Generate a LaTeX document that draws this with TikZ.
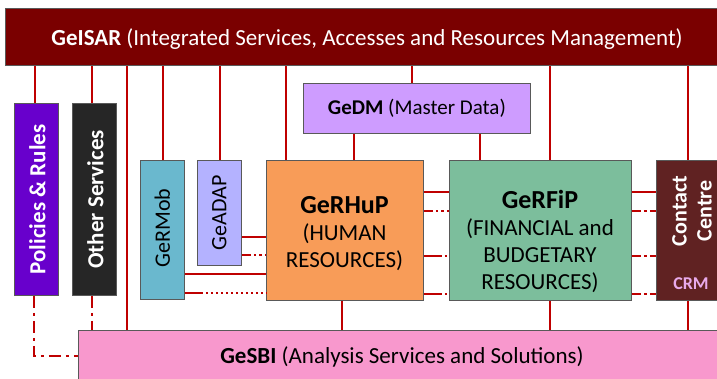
\documentclass[tikz,border=0pt]{standalone}
\usepackage{fontspec}
\setmainfont{Carlito}
\begin{document}
\begin{tikzpicture}[x=1pt,y=-1pt,
  box/.style={draw=black!65,line width=0.8pt,anchor=north west,inner sep=0pt,align=center},
  link/.style={draw=red!75!black,line width=2pt},
  ddot/.style={link,dash pattern=on 9pt off 3pt on 2.5pt off 3pt on 2.5pt off 3pt},
  dashdot/.style={link,dash pattern=on 9pt off 3pt on 3pt off 3pt},
  dots/.style={link,dash pattern=on 18pt off 3pt on 2.5pt off 2.5pt on 2.5pt off 2.5pt on 2.5pt off 2.5pt on 2.5pt off 2.5pt on 2.5pt off 2.5pt on 2.5pt off 2.5pt on 2.5pt off 2.5pt on 2.5pt off 2.5pt on 2.5pt off 2.5pt on 2.5pt off 2.5pt on 2.5pt off 2.5pt on 2.5pt off 2.5pt on 2.5pt off 2.5pt},
  sidedash/.style={link,dash pattern=on 12pt off 5pt on 3pt off 5pt}]
\definecolor{barred}{RGB}{122,0,0}
\definecolor{polc}{RGB}{104,0,204}
\definecolor{othc}{RGB}{38,38,38}
\definecolor{mobc}{RGB}{106,184,206}
\definecolor{adapc}{RGB}{180,178,255}
\definecolor{hupc}{RGB}{248,156,88}
\definecolor{dmc}{RGB}{206,156,255}
\definecolor{fipc}{RGB}{124,190,156}
\definecolor{crmc}{RGB}{96,34,34}
\definecolor{crmtext}{RGB}{232,170,235}
\definecolor{sbic}{RGB}{248,152,205}
\useasboundingbox (0,0) rectangle (717,379);

% boxes
\node[box,fill=barred,minimum width=715pt,minimum height=57pt] (bar) at (5,8) {};
\node[text=white,font=\fontsize{23}{27}\selectfont] at (367,39) {\textbf{GeISAR} (Integrated Services, Accesses and Resources Management)};

\node[box,fill=sbic,minimum width=645pt,minimum height=60pt] (sbi) at (78,330) {};
\node[font=\fontsize{23}{27}\selectfont] at (402,357) {\textbf{GeSBI} (Analysis Services and Solutions)};

\node[box,fill=polc,minimum width=44pt,minimum height=192pt] (pol) at (14,103) {};
\node[rotate=90,text=white,font=\bfseries\fontsize{23}{27}\selectfont] at ([xshift=1pt]pol.center) {Policies \& Rules};
\node[box,fill=othc,minimum width=44pt,minimum height=192pt] (oth) at (72,103) {};
\node[rotate=90,text=white,font=\bfseries\fontsize{23}{27}\selectfont] at ([xshift=1pt]oth.center) {Other Services};

\node[box,fill=mobc,minimum width=44pt,minimum height=139pt] (mob) at (140,160) {};
\node[rotate=90,font=\fontsize{22}{26}\selectfont] at ([yshift=2pt]mob.center) {GeRMob};
\node[box,fill=adapc,minimum width=44pt,minimum height=105pt] (adap) at (197,160) {};
\node[rotate=90,font=\fontsize{22}{26}\selectfont] at (adap.center) {GeADAP};

\node[box,fill=dmc,minimum width=227pt,minimum height=50pt] (dm) at (303,83) {};
\node[font=\fontsize{21}{25}\selectfont] at (dm.center) {\textbf{GeDM} (Master Data)};

\node[box,fill=hupc,minimum width=157pt,minimum height=140pt] (hup) at (266,160) {};
\node[align=center,font=\fontsize{23}{27}\selectfont] at (344.5,234)
  {{\bfseries\fontsize{26}{30}\selectfont GeRHuP}\\(HUMAN\\RESOURCES)};

\node[box,fill=fipc,minimum width=182pt,minimum height=140pt] (fip) at (449,160) {};
\node[align=center,font=\fontsize{23}{27}\selectfont] at (540,241)
  {{\bfseries\fontsize{26}{30}\selectfont GeRFiP}\\(FINANCIAL and\\BUDGETARY\\RESOURCES)};

\node[box,fill=crmc,minimum width=72pt,minimum height=140pt] (crm) at (656,160) {};
\node[rotate=90,align=center,text=white,font=\bfseries\fontsize{22}{25}\selectfont] at (692,211) {Contact\\Centre};
\node[text=crmtext,font=\bfseries\fontsize{18}{21}\selectfont] at (691,284) {CRM};

% links from the integration bar
\draw[link] (bar.south -| 35,0) -- (pol.north -| 35,0);
\draw[link] (bar.south -| 92,0) -- (oth.north -| 92,0);
\draw[link] (bar.south -| 127,0) -- (sbi.north -| 127,0);
\draw[link] (bar.south -| 163,0) -- (mob.north -| 163,0);
\draw[link] (bar.south -| 220,0) -- (adap.north -| 220,0);
\draw[link] (bar.south -| 286,0) -- (hup.north -| 286,0);
\draw[link] (bar.south -| 412,0) -- (dm.north -| 412,0);
\draw[link] (bar.south -| 550,0) -- (fip.north -| 550,0);
\draw[link] (bar.south -| 688,0) -- (crm.north -| 688,0);

% master data links
\draw[link] (dm.south -| 354,0) -- (hup.north -| 354,0);
\draw[link] (dm.south -| 480,0) -- (fip.north -| 480,0);

% links down to the analysis layer
\draw[link] (hup.south -| 342,0) -- (sbi.north -| 342,0);
\draw[link] (fip.south -| 550,0) -- (sbi.north -| 550,0);
\draw[link] (crm.south -| 688,0) -- (sbi.north -| 688,0);

% side services
\coordinate (corner) at (34,356);
\draw[sidedash] (pol.south -| 34,0) -- (corner) -- (sbi.west |- corner);
\draw[sidedash] (oth.south -| 92,0) -- (sbi.north -| 92,0);

% horizontal links
\draw[link] (adap.east |- 0,237) -- (hup.west |- 0,237);
\draw[ddot] (adap.east |- 0,255) -- (hup.west |- 0,255);
\draw[link] (mob.east |- 0,274) -- (hup.west |- 0,274);
\draw[dots] (mob.east |- 0,293) -- (hup.west |- 0,293);

\draw[link] (hup.east |- 0,192) -- (fip.west |- 0,192);
\draw[ddot] (hup.east |- 0,211) -- (fip.west |- 0,211);
\draw[dots] (hup.east |- 0,256) -- (fip.west |- 0,256);
\draw[dots] (hup.east |- 0,294) -- (fip.west |- 0,294);

\draw[link] (fip.east |- 0,192) -- (crm.west |- 0,192);
\draw[dashdot] (fip.east |- 0,211) -- (crm.west |- 0,211);
\draw[dashdot] (fip.east |- 0,256) -- (crm.west |- 0,256);
\draw[dashdot] (fip.east |- 0,294) -- (crm.west |- 0,294);
\end{tikzpicture}
\end{document}
